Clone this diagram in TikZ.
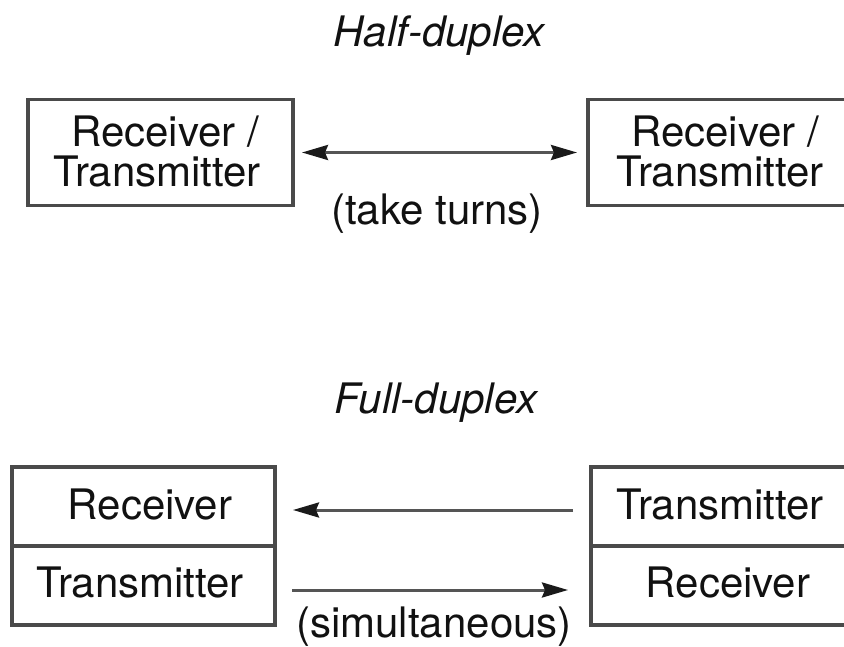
\documentclass[tikz,border=0pt]{standalone}
\usepackage{fontspec}
\setmainfont{TeX Gyre Heros}
\usetikzlibrary{arrows.meta}
\definecolor{boxgray}{HTML}{4A4A4A}
\definecolor{arrgray}{HTML}{555555}
\definecolor{tipcol}{HTML}{1A1A1A}
\definecolor{txt}{HTML}{111111}
\tikzset{tipshape/.tip={Stealth[length=26pt,width=15pt,inset=3pt,color=tipcol]}}
\begin{document}
\begin{tikzpicture}[x=1pt,y=-1pt,
  box/.style={draw=boxgray, line width=3.5pt, rectangle, inner sep=0pt, outer sep=0pt},
  lbl/.style={anchor=base, inner sep=0pt, text=txt, font=\fontsize{42}{42}\selectfont},
  ttl/.style={lbl, font=\fontsize{42}{42}\selectfont\itshape},
  arr/.style={draw=arrgray, line width=3pt, -tipshape},
  darr/.style={draw=arrgray, line width=3pt, tipshape-tipshape}]
\useasboundingbox (0,0) rectangle (844,647);
\fill[white] (0,0) rectangle (844,647);
\clip (0,0) rectangle (844,647);

% Half-duplex
\node[ttl] (hd) at (439,47) {Half-duplex};
\node[box, minimum width=265pt, minimum height=106pt] (htl) at (160.5,152.5) {};
\node[box, minimum width=272pt, minimum height=106pt] (htr) at (724,152.5) {};
\node[lbl] (htl1) at (165,147) {Receiver /};
\node[lbl] (htl2) at (157,187) {Transmitter};
\node[lbl] (htr1) at (725,147) {Receiver /};
\node[lbl] (htr2) at (720,187) {Transmitter};
\draw[darr, shorten <=9pt, shorten >=11pt] (htl.east) -- (htr.west);
\node[lbl] (tt) at (437,225) {(take turns)};

% Full-duplex
\node[ttl] (fd) at (436,413) {Full-duplex};
\node[box, minimum width=263pt, minimum height=79pt] (flR) at (143.5,506.5) {};
\node[box, minimum width=263pt, minimum height=79pt] (flT) at (143.5,585.5) {};
\node[box, minimum width=269pt, minimum height=79pt] (frT) at (725.5,506.5) {};
\node[box, minimum width=269pt, minimum height=79pt] (frR) at (725.5,585.5) {};
\node[lbl] (flR1) at (150,519) {Receiver};
\node[lbl] (flT1) at (140,597) {Transmitter};
\node[lbl] (frT1) at (720,519) {Transmitter};
\node[lbl] (frR1) at (728,597) {Receiver};
\draw[arr, shorten <=18pt, shorten >=18pt] ([yshift=-3.5pt]frT.west) -- ([yshift=-3.5pt]flR.east);
\draw[arr, shorten <=17pt, shorten >=23pt] ([yshift=-4.5pt]flT.east) -- ([yshift=-4.5pt]frR.west);
\node[lbl] (sim) at (434,637) {(simultaneous)};
\end{tikzpicture}
\end{document}
